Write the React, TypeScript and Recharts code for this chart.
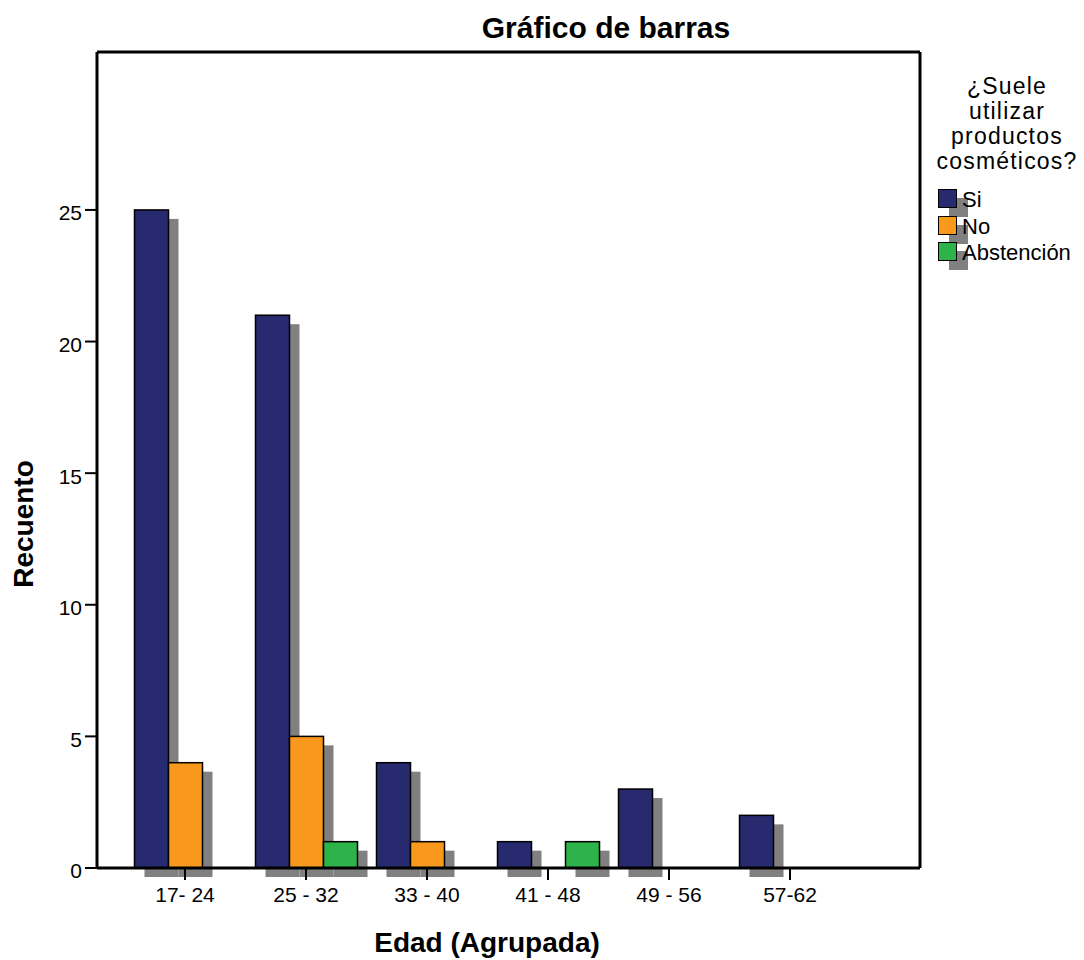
import { BarChart, Bar, XAxis, YAxis, Legend, Label, ReferenceLine } from 'recharts';

const FONT = '"Liberation Sans", Arial, Helvetica, sans-serif';

// ── data ─────────────────────────────────────────────────────────────────
const categories = ['17- 24', '25 - 32', '33 - 40', '41 - 48', '49 - 56', '57-62'];
const siValues = [25, 21, 4, 1, 3, 2];
const noValues = [4, 5, 1, 0, 0, 0];
const abstValues = [0, 1, 0, 1, 0, 0];
const yTicks = [0, 5, 10, 15, 20, 25];
const yMax = 31;
const seriesNames = ['Si', 'No', 'Abstención'];
const legendTitle = ['¿Suele', 'utilizar', 'productos', 'cosméticos?'];

const data = categories.map((c, i) => ({ edad: c, si: siValues[i], no: noValues[i], abst: abstValues[i] }));

const SHADOW = '#808080';
const NAVY = '#272a6f';
const ORANGE = '#f8981d';
const GREEN = '#2eb34a';

// ── bar with the grey drop shadow SPSS puts behind each bar ──────────────
// eslint-disable-next-line @typescript-eslint/no-explicit-any
const ShadowBar = (props: any) => {
  const { x, y, width, height, fill } = props;
  if (!height || height <= 0) return <g />;
  return (
    <g>
      <rect x={x + 10} y={y + 9} width={width} height={height} fill={SHADOW} />
      <rect x={x} y={y} width={width} height={height} fill={fill} stroke="#000" strokeWidth={1.5} />
    </g>
  );
};

// ── legend: title + swatches with shadow ─────────────────────────────────
// eslint-disable-next-line @typescript-eslint/no-explicit-any
const LegendBox = (props: any) => {
  // keep the series order (Recharts sorts legend items by name otherwise)
  const items = [...(props.payload ?? [])].sort(
    // eslint-disable-next-line @typescript-eslint/no-explicit-any
    (a: any, b: any) => seriesNames.indexOf(a.value) - seriesNames.indexOf(b.value)
  );
  return (
    <div style={{ fontFamily: FONT, color: '#000' }}>
      {legendTitle.map(l => (
        <div key={l} style={{ textAlign: 'center', fontSize: 23, lineHeight: '25px', letterSpacing: 1.2 }}>{l}</div>
      ))}
      <div style={{ position: 'relative', marginTop: 13, height: items.length * 26.5 }}>
        {/* eslint-disable-next-line @typescript-eslint/no-explicit-any */}
        {items.map((it: any, i: number) => (
          <div key={it.value} style={{ position: 'absolute', left: 0, top: i * 26.5, height: 26.5, width: '100%' }}>
            <div style={{ position: 'absolute', left: 19, top: 11, width: 19, height: 19, background: SHADOW }} />
            <div style={{ position: 'absolute', left: 8, top: 2, width: 19, height: 19, boxSizing: 'border-box', border: '1.5px solid #000', background: it.color }} />
            <div style={{ position: 'absolute', left: 32, top: 0, lineHeight: '26.5px', fontSize: 22 }}>{it.value}</div>
          </div>
        ))}
      </div>
    </div>
  );
};

const frameLine = { stroke: '#000', strokeWidth: 3 };

export default function App() {
  return (
    <div style={{ position: 'absolute', left: 0, top: 0, width: 1084, height: 960, background: '#fff' }}>
      <BarChart
        width={1084}
        height={960}
        data={data}
        margin={{ top: 52, right: 163, bottom: 0, left: 0 }}
        barCategoryGap={10}
        barGap={0}
      >
        <XAxis
          dataKey="edad"
          height={92}
          interval={0}
          padding={{ left: 27.5, right: 69.5 }}
          axisLine={frameLine}
          tickLine={{ stroke: '#000', strokeWidth: 2 }}
          tickSize={12}
          tickMargin={7}
          tick={{ fontSize: 21, fill: '#000', fontFamily: FONT }}
        >
          <Label
            content={() => (
              <text x={487} y={952} textAnchor="middle" fontFamily={FONT} fontSize={28} fontWeight="bold" fill="#000">
                Edad (Agrupada)
              </text>
            )}
          />
        </XAxis>
        <YAxis
          width={97}
          domain={[0, yMax]}
          ticks={yTicks}
          interval={0}
          axisLine={frameLine}
          tickLine={{ stroke: '#000', strokeWidth: 2 }}
          tickSize={12}
          tickMargin={3}
          tick={{ fontSize: 21, fill: '#000', fontFamily: FONT, dy: 3 }}
        >
          <Label
            content={() => (
              <text x={33} y={524} textAnchor="middle" transform="rotate(-90, 33, 524)" fontFamily={FONT} fontSize={28} fontWeight="bold" fill="#000">
                Recuento
              </text>
            )}
          />
        </YAxis>
        {/* right edge of the plot frame */}
        <YAxis
          yAxisId="frame"
          orientation="right"
          type="number"
          width={1}
          domain={[0, yMax]}
          allowDataOverflow
          axisLine={frameLine}
          tick={false}
          tickLine={false}
        />
        {/* top edge of the plot frame + chart title */}
        <ReferenceLine y={yMax} stroke="#000" strokeWidth={3} ifOverflow="visible">
          <Label
            content={() => (
              <text x={606} y={38} textAnchor="middle" fontFamily={FONT} fontSize={30} fontWeight="bold" fill="#000">
                Gráfico de barras
              </text>
            )}
          />
        </ReferenceLine>
        <Legend
          layout="vertical"
          align="center"
          verticalAlign="middle"
          content={<LegendBox />}
          wrapperStyle={{ left: 930, top: 74, width: 154 }}
        />
        <Bar dataKey="si" name="Si" fill={NAVY} shape={<ShadowBar />} isAnimationActive={false} />
        <Bar dataKey="no" name="No" fill={ORANGE} shape={<ShadowBar />} isAnimationActive={false} />
        <Bar dataKey="abst" name="Abstención" fill={GREEN} shape={<ShadowBar />} isAnimationActive={false} />
      </BarChart>
    </div>
  );
}
